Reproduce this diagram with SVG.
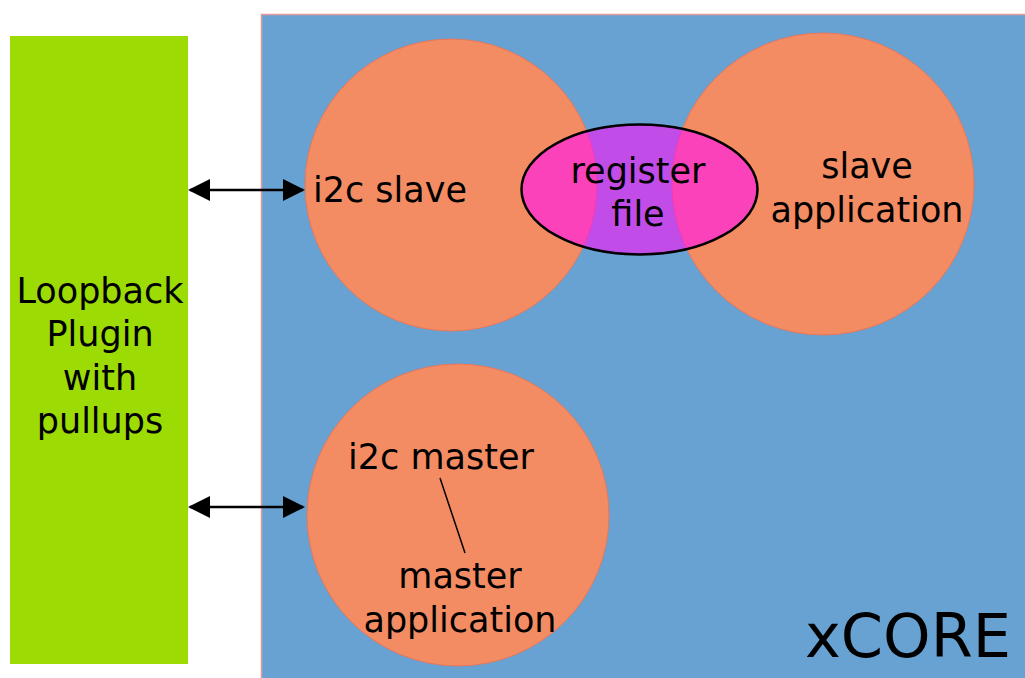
<svg xmlns="http://www.w3.org/2000/svg" width="1025" height="678" viewBox="0 0 1025 678">
  <defs>
    <style>
      .lbl { font-family: "DejaVu Sans", Verdana, sans-serif; font-size: 35px; fill: #000; text-anchor: middle; }
      .core { fill: #68a2d2; stroke: #e39a9a; stroke-width: 1.5; }
      .plug { fill: #9ddb05; }
      .proc { fill: #f48c63; stroke: #e8775a; stroke-width: 1; }
      .conn { stroke: #000; stroke-width: 2.5; fill: none; }
    </style>
    <marker id="ah" markerWidth="22" markerHeight="22" refX="20" refY="11" orient="auto-start-reverse" markerUnits="userSpaceOnUse" viewBox="0 0 22 22">
      <path d="M0,0 L22,11 L0,22 z" fill="#000"/>
    </marker>
  </defs>
  <rect width="1025" height="678" fill="#ffffff"/>

  <g id="xcore">
    <rect class="core" x="261.5" y="14.5" width="770" height="670"/>
    <text class="lbl" x="908" y="657" style="font-size:60.5px">xCORE</text>
  </g>

  <g id="loopback-plugin">
    <rect class="plug" x="10" y="36" width="178" height="628"/>
    <text class="lbl" x="100" y="303">Loopback</text>
    <text class="lbl" x="100" y="346">Plugin</text>
    <text class="lbl" x="100" y="390">with</text>
    <text class="lbl" x="100" y="433">pullups</text>
  </g>

  <g id="i2c-slave">
    <circle class="proc" cx="451" cy="185" r="146"/>
    <text class="lbl" x="390" y="202">i2c slave</text>
  </g>

  <g id="slave-application">
    <circle class="proc" cx="823" cy="184" r="151"/>
    <text class="lbl" x="867" y="178">slave</text>
    <text class="lbl" x="867" y="222">application</text>
  </g>

  <g id="register-file">
    <ellipse cx="639.5" cy="189.5" rx="118" ry="65" fill="#ff10f8" fill-opacity="0.59" stroke="#000" stroke-width="2.5"/>
    <text class="lbl" x="638" y="183">register</text>
    <text class="lbl" x="638" y="226">file</text>
  </g>

  <g id="i2c-master">
    <circle class="proc" cx="458" cy="515" r="151"/>
    <text class="lbl" x="441" y="469">i2c master</text>
    <line x1="440" y1="478" x2="465" y2="553" stroke="#000" stroke-width="1.5"/>
    <text class="lbl" x="460" y="588">master</text>
    <text class="lbl" x="460" y="632">application</text>
  </g>

  <g id="connectors">
    <line class="conn" x1="190" y1="190" x2="303" y2="190" marker-start="url(#ah)" marker-end="url(#ah)"/>
    <line class="conn" x1="190" y1="507" x2="303" y2="507" marker-start="url(#ah)" marker-end="url(#ah)"/>
  </g>
</svg>
